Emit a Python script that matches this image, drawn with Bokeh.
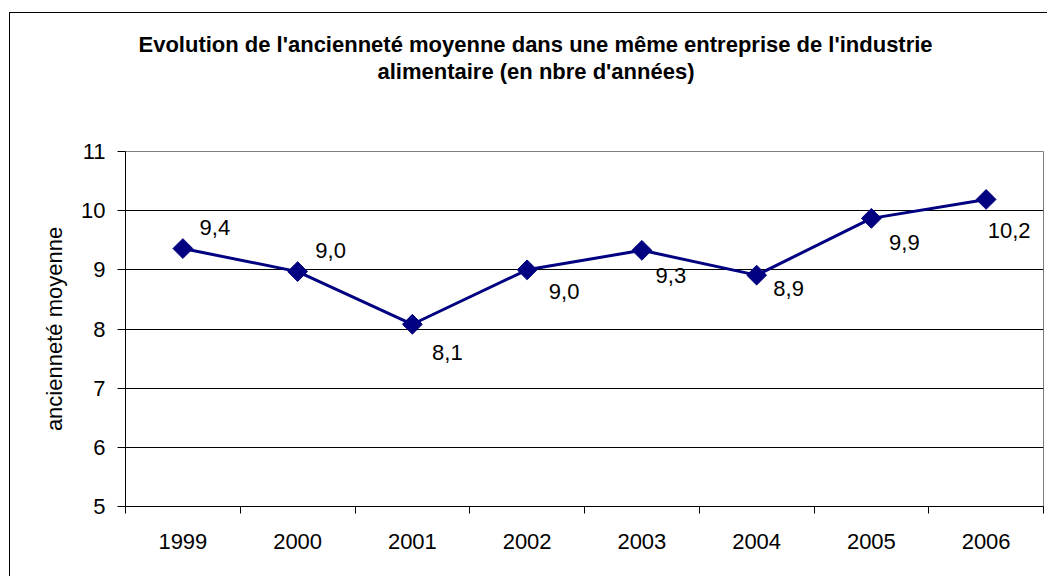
from bokeh.plotting import figure
from bokeh.models import (ColumnDataSource, FixedTicker, Title, Range1d)
from bokeh.embed import file_html
from bokeh.resources import INLINE
import math

# ---- data ----
years = ["1999", "2000", "2001", "2002", "2003", "2004", "2005", "2006"]
anciennete = [9.36, 8.97, 8.08, 9.00, 9.33, 8.91, 9.87, 10.19]
y_ticks = [5, 6, 7, 8, 9, 10, 11]
title_lines = ["Evolution de l'ancienneté moyenne dans une même entreprise de l'industrie",
               "alimentaire (en nbre d'années)"]
y_label = "ancienneté moyenne"

# label placement (screen px offsets of each data label from its point)
label_dx = [32, 33, 35, 37, 29, 32, 33, 23]
label_dy = [-21, -21, 28, 22, 25, 13, 24, 31]
# horizontal offsets of the two title lines from the plot-area left edge
title_offsets = [13, 252]

FONT = "Liberation Sans"
NAVY = "#000080"

W, H = 1047, 576
FL, FT, FR, FB = 125, 151, 4, 70          # frame borders (px)

xs = [i + 0.5 for i in range(len(years))]
labels = [f"{v:.1f}".replace(".", ",") for v in anciennete]
src = ColumnDataSource(dict(x=xs, y=anciennete, lab=labels, dx=label_dx, dy=label_dy))

p = figure(width=W, height=H, output_backend="svg", toolbar_location=None,
           x_range=Range1d(0, len(years)), y_range=Range1d(y_ticks[0], y_ticks[-1]),
           min_border_left=FL, min_border_right=FR, min_border_top=FT, min_border_bottom=FB)
p.background_fill_color = "white"
p.border_fill_color = None
p.outline_line_color = "#808080"
p.outline_line_width = 1
# outer chart-area border (left and top edges visible), drawn under the transparent canvas border
p.styles = {"background": "linear-gradient(#000, #000) 9px 12px / 1px 100% no-repeat, "
                          "linear-gradient(#000, #000) 9px 12px / 100% 1px no-repeat, #fff"}

# axes
p.xaxis.ticker = FixedTicker(ticks=xs, minor_ticks=list(range(len(years) + 1)))
p.xaxis.major_label_overrides = {x: y for x, y in zip(xs, years)}
p.xaxis.major_tick_out = 0
p.xaxis.major_tick_in = 0
p.xaxis.minor_tick_out = 7
p.xaxis.minor_tick_in = 0
p.xaxis.minor_tick_line_color = "black"
p.xaxis.axis_line_color = "black"
p.xaxis.major_label_standoff = 20
p.xaxis.major_label_text_font = FONT
p.xaxis.major_label_text_font_size = "22px"
p.xaxis.major_label_text_color = "black"

p.yaxis.ticker = FixedTicker(ticks=y_ticks)
p.yaxis.major_tick_out = 8
p.yaxis.major_tick_in = 0
p.yaxis.minor_tick_line_color = None
p.yaxis.axis_line_color = "black"
p.yaxis.major_tick_line_color = "black"
p.yaxis.major_label_standoff = 12
p.yaxis.major_label_text_font = FONT
p.yaxis.major_label_text_font_size = "22px"
p.yaxis.major_label_text_color = "black"
p.yaxis.axis_label = y_label
p.yaxis.axis_label_text_font = FONT
p.yaxis.axis_label_text_font_size = "22px"
p.yaxis.axis_label_text_font_style = "normal"
p.yaxis.axis_label_text_color = "black"
p.yaxis.axis_label_standoff = 11

p.xgrid.grid_line_color = None
p.ygrid.ticker = FixedTicker(ticks=y_ticks[1:-1])
p.ygrid.grid_line_color = "black"
p.ygrid.grid_line_width = 1

# series
p.line("x", "y", source=src, line_color=NAVY, line_width=3)
p.scatter("x", "y", source=src, marker="square", size=14, angle=math.pi / 4,
          fill_color=NAVY, line_color=NAVY)
p.text("x", "y", text="lab", source=src, x_offset="dx", y_offset="dy",
       text_align="center", text_baseline="middle", text_font_size="22px",
       text_font={"value": FONT}, text_color="black")

# title: spacer next to the plot area, then line 2, then line 1 (stacked outward)
p.title.text = ""
p.add_layout(Title(text=" ", standoff=41, text_font_size="22px"), "above")
p.add_layout(Title(text=title_lines[1], align="left", offset=title_offsets[1], standoff=0,
                   text_font=FONT, text_font_size="22px", text_font_style="bold",
                   text_color="black"), "above")
p.add_layout(Title(text=title_lines[0], align="left", offset=title_offsets[0], standoff=0,
                   text_font=FONT, text_font_size="22px", text_font_style="bold",
                   text_color="black"), "above")

open("out.html", "w").write(file_html(p, INLINE))
